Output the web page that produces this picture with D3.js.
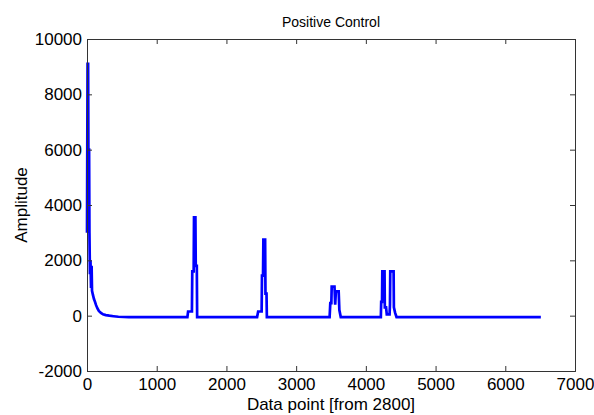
<!DOCTYPE html>
<html>
<head>
<meta charset="utf-8">
<script src="https://cdn.jsdelivr.net/npm/d3@7"></script>
<style>
  body { margin: 0; background: #fff; }
  text { font-family: "Liberation Sans", Arial, sans-serif; fill: #000; }
</style>
</head>
<body>
<div id="chart-area"></div>
<script>
// data points (x = data point, y = amplitude)
const xPts = [0, 8, 16, 20, 30, 35, 42, 50, 58, 66, 72, 85, 100, 115, 130, 150, 170, 200, 230, 270, 320, 380, 450,
    600, 800, 1000, 1200, 1440,
    1450, 1505, 1510, 1530, 1535, 1555, 1560, 1575, 1580, 1800, 2100, 2440,
    2455, 2505, 2510, 2525, 2530, 2555, 2560, 2575, 2580, 2800, 3100, 3480,
    3490, 3505, 3510, 3550, 3560, 3570, 3610, 3620, 3640, 3900, 4215,
    4220, 4232, 4236, 4268, 4272, 4290, 4300, 4340, 4346, 4350, 4398, 4402, 4420, 4440,
    4600, 5000, 5500, 6000, 6510];
const yPts = [3000, 9100, 9100, 6000, 6000, 3000, 1500, 2000, 1000, 1800, 900, 750, 600, 500, 380, 260, 170, 100, 50, 20, 0, -20, -40,
    -50, -55, -50, -55, -50,
    150, 150, 1600, 1600, 3550, 3550, 1800, 1800, -50, -55, -50, -50,
    150, 150, 1450, 1450, 2750, 2750, 800, 800, -50, -55, -50, -50,
    450, 450, 1050, 1050, 400, 880, 880, 200, -50, -55, -50,
    500, 500, 1600, 1600, 300, 300, 50, 50, 400, 1600, 1600, 300, 100, -50,
    -55, -50, -55, -50, -55];

const xTicks = [0, 1000, 2000, 3000, 4000, 5000, 6000, 7000];
const yTicks = [-2000, 0, 2000, 4000, 6000, 8000, 10000];

const data = xPts.map(function (d, i) { return { x: d, y: yPts[i] }; });

const W = 594, H = 415;
const margin = { left: 87, top: 39, right: 19, bottom: 44 };
const w = W - margin.left - margin.right;
const h = H - margin.top - margin.bottom;

const svg = d3.select("#chart-area").append("svg")
    .attr("width", W)
    .attr("height", H);

const g = svg.append("g")
    .attr("transform", "translate(" + margin.left + "," + margin.top + ")");

const x = d3.scaleLinear().domain([0, 7000]).range([0, w]);
const y = d3.scaleLinear().domain([-2000, 10000]).range([h, 0]);

// plain hyphen minus like the original
const fmt = function (d) { return String(d); };

// data line
const line = d3.line()
    .x(function (d) { return x(d.x); })
    .y(function (d) { return y(d.y); });

g.append("path")
    .datum(data)
    .attr("d", line)
    .attr("fill", "none")
    .attr("stroke", "#0000ff")
    .attr("stroke-width", 2.7)
    .attr("stroke-linejoin", "miter");

// axes, ticks inward on all four sides
const axisColor = "#333";
g.append("g")
    .attr("transform", "translate(0," + h + ")")
    .call(d3.axisBottom(x).tickValues(xTicks).tickSize(-5).tickPadding(7).tickFormat(fmt));
g.append("g")
    .call(d3.axisLeft(y).tickValues(yTicks).tickSize(-5).tickPadding(5).tickFormat(fmt));
g.append("g")
    .call(d3.axisTop(x).tickValues(xTicks).tickSize(-5).tickFormat(""));
g.append("g")
    .attr("transform", "translate(" + w + ",0)")
    .call(d3.axisRight(y).tickValues(yTicks).tickSize(-5).tickFormat(""));

g.selectAll(".domain, .tick line")
    .attr("stroke", axisColor)
    .attr("stroke-width", 1);
g.selectAll(".tick text")
    .attr("font-size", 17)
    .attr("font-family", "Liberation Sans, Arial, sans-serif")
    .attr("fill", "#000");

// labels
svg.append("text")
    .attr("x", margin.left + w / 2)
    .attr("y", 27)
    .attr("text-anchor", "middle")
    .attr("font-size", 14)
    .text("Positive Control");

svg.append("text")
    .attr("x", margin.left + w / 2)
    .attr("y", 410)
    .attr("text-anchor", "middle")
    .attr("font-size", 17)
    .text("Data point [from 2800]");

svg.append("text")
    .attr("transform", "translate(27," + (margin.top + h / 2) + ") rotate(-90)")
    .attr("text-anchor", "middle")
    .attr("font-size", 17)
    .text("Amplitude");
</script>
</body>
</html>
